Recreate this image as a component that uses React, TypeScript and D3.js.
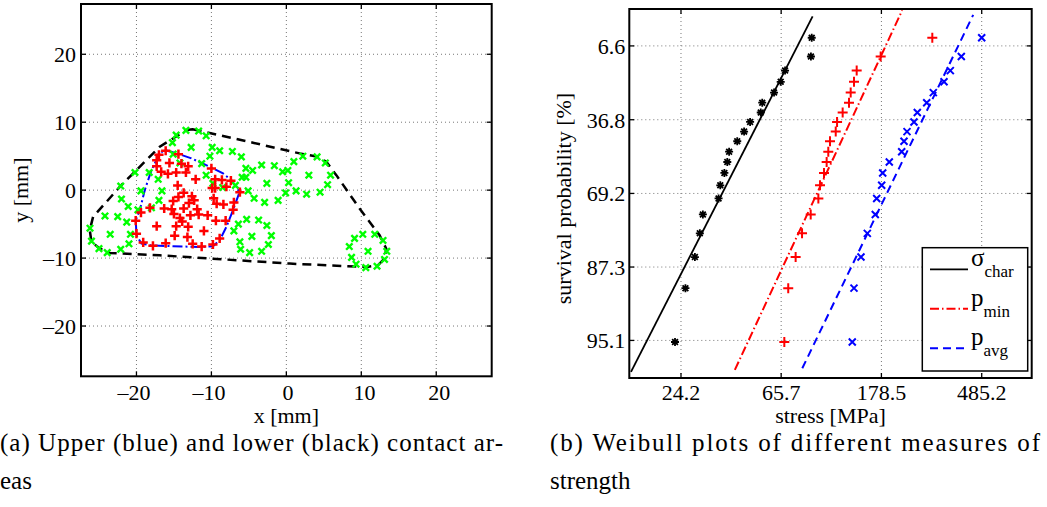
import React from 'react';
import * as d3 from 'd3';

const FONT = "'Liberation Serif', 'Times New Roman', 'DejaVu Serif', serif";

// ---- (a) contact areas, values in mm ----
const xTicksA = [-20, -10, 0, 10, 20];
const yTicksA = [-20, -10, 0, 10, 20];

// lower contact area (black dashed outline)
const lowerContact: [number, number][] = [
  [-12.5, 8.95], [-11.6, 8.75], [-4.45, 6.98], [1.77, 5.41], [4.21, 4.91], [5.33, 4.17],
  [6.67, 2.21], [9.77, -2.7], [12.44, -6.64], [13.33, -8.6], [13.11, -10.07], [12.21, -11.06],
  [10.67, -11.31], [0.44, -10.81], [-16.89, -9.59], [-23.56, -9.25], [-24.89, -8.6],
  [-26.0, -7.63], [-26.23, -5.9], [-25.79, -3.94], [-22.23, 0.49], [-16.89, 6.39], [-13.33, 8.85],
];

// upper contact area (blue dash-dot outline)
const upperContact: [number, number][] = [
  [-16.23, 5.9], [-14.23, 5.27], [-12.67, 4.68], [-10.23, 3.44], [-8.45, 2.46], [-7.33, 1.47],
  [-6.23, -0.25], [-7.12, -2.95], [-8.0, -5.41], [-8.89, -7.37], [-9.79, -8.26], [-11.56, -8.36],
  [-15.12, -8.26], [-18.23, -8.11], [-19.33, -7.86], [-20.0, -6.64], [-20.09, -4.42],
  [-19.56, -2.95], [-18.89, 0], [-18.0, 2.95], [-16.89, 5.41],
];

// lower surface points (green x)
const lowerPts: [number, number][] = [
  [-13.4, 8.8], [-11.7, 8.7], [-10.7, 8.0], [-14.7, 8.1], [-15.2, 7.0], [-12.7, 6.3], [-9.9, 6.3],
  [-8.9, 5.8], [-7.2, 5.7], [-6.0, 4.9], [-10.2, 5.0], [-15.1, 5.3], [-14.2, 4.0], [-11.3, 3.9],
  [-10.7, 2.2], [-5.4, 3.2], [-4.5, 2.9], [-5.9, 1.9], [-5.4, 1.9], [-9.8, 1.0], [-8.5, 0.4],
  [-6.8, 0.7], [-5.1, -0.1], [-4.3, -1.2], [-18.3, 2.6], [-20.2, 2.6], [-17.1, 1.6], [-22.1, 0.6],
  [-19.4, -0.1], [-16.6, -0.1], [-22.0, -1.3], [-17.0, -1.5], [-21.1, -2.4], [-19.8, -2.9],
  [-18.0, -2.6], [-24.2, -3.8], [-22.5, -3.9], [-21.3, -4.7], [-26.2, -5.6], [-23.5, -6.5],
  [-20.8, -6.5], [-26.0, -7.5], [-21.0, -7.9], [-25.0, -8.6], [-23.9, -9.2], [-22.1, -8.7],
  [-5.3, -4.3], [-6.4, -5.0], [-7.0, -6.0], [-4.6, -6.8], [-6.2, -7.6], [-6.1, -8.7], [-4.9, -9.2],
  [-3.3, 3.7], [-1.6, 3.6], [1.0, 4.2], [2.2, 5.0], [4.1, 4.9], [5.2, 4.0], [-0.5, 2.7], [0.2, 2.9],
  [3.0, 2.2], [5.9, 2.2], [0.3, 1.1], [-2.6, 1.0], [5.5, 0.8], [-0.1, -0.4], [1.3, -0.1],
  [2.7, -0.6], [4.5, -0.3], [-2.9, -1.8], [-1.1, -1.5], [-3.7, -4.4], [-2.6, -5.2], [-2.0, -6.7],
  [-2.4, -8.0], [-3.3, -9.0], [9.1, -7.1], [10.2, -6.5], [11.8, -6.5], [12.9, -7.4], [8.4, -8.3],
  [10.9, -9.0], [13.4, -9.0], [8.7, -9.9], [13.1, -10.2], [9.3, -10.9], [10.6, -11.4], [12.1, -11.2],
];

// upper surface points (red +)
const upperPts: [number, number][] = [
  [-16.1, 5.8], [-17.0, 5.2], [-17.3, 4.4], [-17.3, 3.5], [-15.6, 4.0], [-14.4, 5.3], [-14.0, 3.9],
  [-13.1, 3.5], [-16.7, 2.7], [-15.8, 2.4], [-14.7, 2.6], [-13.4, 2.6], [-12.1, 1.6], [-10.0, 3.2],
  [-9.5, 1.6], [-8.6, 1.5], [-7.4, 1.4], [-9.9, 0.3], [-9.5, 0.3], [-8.0, 0.5], [-6.2, -0.3],
  [-14.5, 0.7], [-13.7, -0.4], [-12.6, -0.9], [-12.3, -1.5], [-13.0, -1.9], [-14.4, -1.0],
  [-15.1, -1.6], [-16.3, -2.7], [-15.3, -2.8], [-13.7, -2.7], [-11.9, -2.8], [-15.0, -3.5],
  [-14.2, -4.1], [-12.8, -3.7], [-11.7, -3.6], [-10.5, -3.7], [-9.7, -1.2], [-9.3, -2.0],
  [-8.4, -2.1], [-7.0, -1.8], [-7.1, -2.9], [-9.4, -4.5], [-8.1, -4.5], [-13.9, -4.6],
  [-13.1, -5.4], [-14.7, -5.3], [-11.0, -6.0], [-17.3, -5.3], [-20.1, -4.5], [-18.2, -2.6],
  [-19.4, -3.3], [-20.0, -6.4], [-14.9, -6.7], [-13.2, -6.9], [-19.1, -7.7], [-17.8, -8.2],
  [-16.1, -7.8], [-12.5, -7.9], [-11.3, -8.3], [-9.8, -8.0], [-8.9, -7.1],
];

// ---- (b) Weibull plot ----
const survivalPct = [4.8, 9.5, 14.3, 18.8, 23.6, 28.4, 33.2, 37.9, 42.7, 47.4, 52.3, 56.9, 61.5, 66.3, 70.9, 75.8, 80.7, 85.6, 90.3, 95.2];
const sigmaChar = [89.1, 88.4, 68.3, 65.4, 61.2, 54.4, 53.6, 48.2, 45.4, 42.4, 39.1, 38.4, 37.3, 35.8, 35.2, 30.1, 29.2, 27.8, 25.3, 22.8];
const pMin = [296.5, 177.2, 139.5, 135.8, 131.4, 129.2, 121.3, 114.7, 113.2, 106.9, 105.1, 103.4, 100.7, 96.8, 95.2, 88.2, 80.9, 75.9, 70.5, 67.8];
const pAvg = [485.2, 395.9, 354.8, 333.2, 299.5, 280.4, 255.3, 247.0, 230.4, 223.6, 218.5, 193.1, 180.8, 179.0, 170.3, 167.9, 155.1, 145.6, 135.8, 133.5];
const stressTickLabels = ['24.2', '65.7', '178.5', '485.2'];
const survivalTickLabels = ['6.6', '36.8', '69.2', '87.3', '95.1'];
// Weibull fits: modulus, characteristic stress, drawn stress range
const fitModulus = [2.66, 2.92, 2.81];
const fitScale = [53.1, 132.2, 268.9];
const fitRange: [number, number][] = [[14.7, 89.9], [41.4, 219.7], [81.1, 445.8]];

const FS = 22;

const weib = (s: number) => Math.log(-Math.log(s / 100));

function tickLabel(v: number) {
  return v < 0 ? '\u2013' + Math.abs(v) : String(v);
}

const txt = { fontFamily: FONT };

function PanelA() {
  const x = d3.scaleLinear().domain([-27.4, 27.4]).range([81, 491.7]);
  const y = d3.scaleLinear().domain([-27.4, 27.4]).range([376.3, 4]);
  const [x0, x1] = x.range();
  const [y0, y1] = y.range();
  const line = d3.line<[number, number]>().x(d => x(d[0])).y(d => y(d[1])).curve(d3.curveLinearClosed);

  return (
    <g>
      {xTicksA.map(t => (
        <g key={'gx' + t}>
          <line x1={x(t)} x2={x(t)} y1={y1} y2={y0} stroke="#777" strokeWidth={1} strokeDasharray="1,3" />
          <line x1={x(t)} x2={x(t)} y1={y0} y2={y0 - 5} stroke="#000" strokeWidth={1.3} />
          <line x1={x(t)} x2={x(t)} y1={y1} y2={y1 + 5} stroke="#000" strokeWidth={1.3} />
          <text x={x(t) + (String(Math.abs(t)).length * FS * 0.32)} y={400} textAnchor="end"
            style={txt} fontSize={FS}>{tickLabel(t)}</text>
        </g>
      ))}
      {yTicksA.map(t => (
        <g key={'gy' + t}>
          <line x1={x0} x2={x1} y1={y(t)} y2={y(t)} stroke="#777" strokeWidth={1} strokeDasharray="1,3" />
          <line x1={x0} x2={x0 + 5} y1={y(t)} y2={y(t)} stroke="#000" strokeWidth={1.3} />
          <line x1={x1} x2={x1 - 5} y1={y(t)} y2={y(t)} stroke="#000" strokeWidth={1.3} />
          <text x={x0 - 5} y={y(t) + 8} textAnchor="end" style={txt} fontSize={FS}>{tickLabel(t)}</text>
        </g>
      ))}

      <path d={line(lowerContact) || ''} fill="none" stroke="#000" strokeWidth={2.5} strokeDasharray="9,6" />
      <path d={line(upperContact) || ''} fill="none" stroke="#0000ff" strokeWidth={2} strokeDasharray="10,3,2,3" />

      {lowerPts.map((p, i) => (
        <path key={'g' + i}
          d={`M${x(p[0]) - 3.2},${y(p[1]) - 3.2}L${x(p[0]) + 3.2},${y(p[1]) + 3.2}M${x(p[0]) - 3.2},${y(p[1]) + 3.2}L${x(p[0]) + 3.2},${y(p[1]) - 3.2}`}
          stroke="#00ff00" strokeWidth={2.4} />
      ))}
      {upperPts.map((p, i) => (
        <path key={'r' + i}
          d={`M${x(p[0]) - 4.6},${y(p[1])}L${x(p[0]) + 4.6},${y(p[1])}M${x(p[0])},${y(p[1]) - 4.6}L${x(p[0])},${y(p[1]) + 4.6}`}
          stroke="#ff0000" strokeWidth={2.5} />
      ))}

      <rect x={x0} y={y1} width={x1 - x0} height={y0 - y1} fill="none" stroke="#000" strokeWidth={2} />
      <text x={(x0 + x1) / 2} y={423} textAnchor="middle" style={txt} fontSize={FS}>x [mm]</text>
      <text transform={`translate(28,${(y0 + y1) / 2}) rotate(-90)`} textAnchor="middle" style={txt} fontSize={FS}>y [mm]</text>
    </g>
  );
}

function PanelB() {
  const x = d3.scaleLog().domain([Math.exp(2.671), Math.exp(6.683)]).range([629.3, 1031.7]);
  const y = d3.scaleLinear().domain([-3.5, 1.5]).range([378, 9]);
  const [x0, x1] = x.range();
  const [y0, y1] = y.range();
  const colors = ['#000000', '#ff0000', '#0000ff'];
  const dashes = ['none', '9,3,1.5,3', '8,5'];
  const series = [sigmaChar, pMin, pAvg];

  const fitLine = (i: number) => {
    const pts = fitRange[i].map(s => [x(s), y(fitModulus[i] * (Math.log(s) - Math.log(fitScale[i])))] as [number, number]);
    return d3.line()(pts) || '';
  };

  const marker = (i: number, cx: number, cy: number, k: string) => {
    if (i === 0) {
      const r = 4;
      const d = r * 0.72;
      return <path key={k} d={`M${cx - r},${cy}L${cx + r},${cy}M${cx},${cy - r}L${cx},${cy + r}M${cx - d},${cy - d}L${cx + d},${cy + d}M${cx - d},${cy + d}L${cx + d},${cy - d}`}
        stroke="#000" strokeWidth={1.8} />;
    }
    if (i === 1) {
      const r = 5;
      return <path key={k} d={`M${cx - r},${cy}L${cx + r},${cy}M${cx},${cy - r}L${cx},${cy + r}`} stroke="#ff0000" strokeWidth={2} />;
    }
    const r = 3.5;
    return <path key={k} d={`M${cx - r},${cy - r}L${cx + r},${cy + r}M${cx - r},${cy + r}L${cx + r},${cy - r}`} stroke="#0000ff" strokeWidth={2} />;
  };

  const legendLabels: [string, string][] = [['\u03c3', 'char'], ['p', 'min'], ['p', 'avg']];

  return (
    <g>
      <defs>
        <clipPath id="clipB"><rect x={x0} y={y1} width={x1 - x0} height={y0 - y1} /></clipPath>
      </defs>
      {stressTickLabels.map(t => {
        const v = +t;
        return (
          <g key={'bx' + t}>
            <line x1={x(v)} x2={x(v)} y1={y1} y2={y0} stroke="#777" strokeWidth={1} strokeDasharray="1,3" />
            <line x1={x(v)} x2={x(v)} y1={y0} y2={y0 - 5} stroke="#000" strokeWidth={1.3} />
            <line x1={x(v)} x2={x(v)} y1={y1} y2={y1 + 5} stroke="#000" strokeWidth={1.3} />
            <text x={x(v)} y={400} textAnchor="middle" style={txt} fontSize={FS}>{t}</text>
          </g>
        );
      })}
      {survivalTickLabels.map(t => {
        const v = weib(+t);
        return (
          <g key={'by' + t}>
            <line x1={x0} x2={x1} y1={y(v)} y2={y(v)} stroke="#777" strokeWidth={1} strokeDasharray="1,3" />
            <line x1={x0} x2={x0 + 5} y1={y(v)} y2={y(v)} stroke="#000" strokeWidth={1.3} />
            <line x1={x1} x2={x1 - 5} y1={y(v)} y2={y(v)} stroke="#000" strokeWidth={1.3} />
            <text x={x0 - 4} y={y(v) + 8} textAnchor="end" style={txt} fontSize={FS}>{t}</text>
          </g>
        );
      })}

      <g clipPath="url(#clipB)">
        {[0, 1, 2].map(i => (
          <path key={'f' + i} d={fitLine(i)} fill="none" stroke={colors[i]} strokeWidth={i === 0 ? 1.8 : 2}
            strokeDasharray={dashes[i]} />
        ))}
        {series.map((s, i) => s.map((v, j) => marker(i, x(v), y(weib(survivalPct[j])), `m${i}-${j}`)))}
      </g>

      <rect x={x0} y={y1} width={x1 - x0} height={y0 - y1} fill="none" stroke="#000" strokeWidth={2} />

      <rect x={922.3} y={247.7} width={105.4} height={123.3} fill="#fff" stroke="#000" strokeWidth={1.5} />
      {legendLabels.map((l, i) => {
        const ly = 269.3 + i * 39.5;
        return (
          <g key={'lg' + i}>
            <line x1={930} x2={968} y1={ly} y2={ly} stroke={colors[i]} strokeWidth={i === 0 ? 1.8 : 2}
              strokeDasharray={dashes[i]} />
            <text x={971} y={ly - 3} style={txt} fontSize={25}>{l[0]}
              <tspan dy={11} fontSize={17}>{l[1]}</tspan>
            </text>
          </g>
        );
      })}

      <text x={(x0 + x1) / 2} y={423} textAnchor="middle" style={txt} fontSize={FS}>stress [MPa]</text>
      <text transform={`translate(571,${(y0 + y1) / 2 + 5}) rotate(-90)`} textAnchor="middle" style={txt} fontSize={FS}>survival probability [%]</text>
    </g>
  );
}

export default function App() {
  return (
    <svg width={1047} height={507} style={{ position: 'absolute', left: 0, top: 0, background: '#fff' }}>
      <rect width={1047} height={507} fill="#fff" />
      <PanelA />
      <PanelB />
      <text x={0} y={451} style={txt} fontSize={25} textLength={503} lengthAdjust="spacing">(a) Upper (blue) and lower (black) contact ar-</text>
      <text x={0} y={489} style={txt} fontSize={25}>eas</text>
      <text x={550} y={451} style={txt} fontSize={25} textLength={490} lengthAdjust="spacing">(b) Weibull plots of different measures of</text>
      <text x={550} y={489} style={txt} fontSize={25}>strength</text>
    </svg>
  );
}
